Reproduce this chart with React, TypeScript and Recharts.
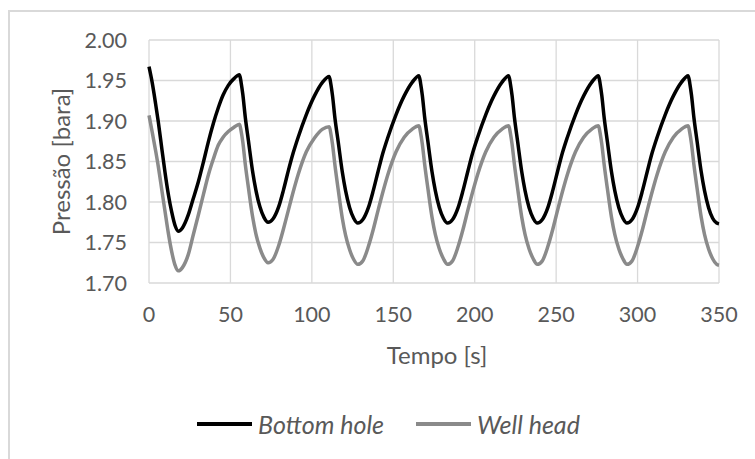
import { LineChart, Line, XAxis, YAxis, CartesianGrid, Legend } from "recharts";

// tempo [s]
const tempo = [
  0, 2, 4, 5.7, 8, 9.8, 12, 13.9, 16, 18, 20.5, 24.1, 27, 30.3, 33.5, 36.4, 39.5, 42.5, 45.5, 48.7, 52,
  55.6, 56.6, 57.6, 59.1, 61.1, 63.6, 65.6, 68.1, 70.6, 73.1, 76.1, 79.6, 82.6, 85.6, 88.6, 91.6, 96.6, 101.6, 106.6,
  110.7, 111.7, 112.7, 114.2, 116.2, 118.7, 120.7, 123.2, 125.7, 128.2, 131.2, 134.7, 137.7, 140.7, 143.7, 146.7, 151.7, 156.7, 161.7,
  165.8, 166.8, 167.8, 169.3, 171.3, 173.8, 175.8, 178.3, 180.8, 183.3, 186.3, 189.8, 192.8, 195.8, 198.8, 201.8, 206.8, 211.8, 216.8,
  220.9, 221.9, 222.9, 224.4, 226.4, 228.9, 230.9, 233.4, 235.9, 238.4, 241.4, 244.9, 247.9, 250.9, 253.9, 256.9, 261.9, 266.9, 271.9,
  276.0, 277.0, 278.0, 279.5, 281.5, 284.0, 286.0, 288.5, 291.0, 293.5, 296.5, 300.0, 303.0, 306.0, 309.0, 312.0, 317.0, 322.0, 327.0,
  331.1, 332.1, 333.1, 334.6, 336.6, 339.1, 341.1, 343.6, 346.1, 348.6, 350,
];

// Bottom hole [bara]
const bottomHole = [
  1.967, 1.947, 1.922, 1.899, 1.864, 1.837, 1.808, 1.788, 1.771, 1.764, 1.768, 1.784, 1.803, 1.825, 1.850, 1.874, 1.897, 1.916, 1.932, 1.944, 1.952,
  1.957, 1.947, 1.933, 1.905, 1.875, 1.838, 1.815, 1.794, 1.781, 1.775, 1.779, 1.794, 1.815, 1.839, 1.861, 1.880, 1.908, 1.931, 1.948,
  1.955, 1.945, 1.931, 1.903, 1.874, 1.837, 1.814, 1.793, 1.780, 1.774, 1.778, 1.793, 1.814, 1.838, 1.861, 1.880, 1.908, 1.931, 1.948,
  1.956, 1.946, 1.932, 1.904, 1.874, 1.837, 1.814, 1.793, 1.780, 1.774, 1.778, 1.793, 1.814, 1.838, 1.861, 1.880, 1.908, 1.931, 1.948,
  1.956, 1.946, 1.932, 1.904, 1.874, 1.837, 1.814, 1.793, 1.780, 1.774, 1.778, 1.793, 1.814, 1.838, 1.861, 1.880, 1.908, 1.931, 1.948,
  1.956, 1.946, 1.932, 1.904, 1.874, 1.837, 1.814, 1.793, 1.780, 1.774, 1.778, 1.793, 1.814, 1.838, 1.861, 1.880, 1.908, 1.931, 1.948,
  1.956, 1.946, 1.932, 1.904, 1.874, 1.837, 1.814, 1.793, 1.780, 1.774, 1.773,
];

// Well head [bara]
const wellHead = [
  1.907, 1.886, 1.864, 1.844, 1.813, 1.789, 1.760, 1.739, 1.722, 1.715, 1.719, 1.735, 1.758, 1.784, 1.810, 1.833, 1.853, 1.870, 1.880, 1.887, 1.892,
  1.896, 1.887, 1.874, 1.847, 1.817, 1.782, 1.761, 1.743, 1.731, 1.725, 1.729, 1.746, 1.767, 1.790, 1.813, 1.834, 1.862, 1.879, 1.890,
  1.893, 1.884, 1.871, 1.845, 1.815, 1.780, 1.759, 1.741, 1.729, 1.723, 1.727, 1.745, 1.766, 1.790, 1.813, 1.834, 1.862, 1.880, 1.890,
  1.894, 1.885, 1.872, 1.846, 1.816, 1.781, 1.760, 1.742, 1.730, 1.723, 1.727, 1.745, 1.766, 1.790, 1.813, 1.834, 1.862, 1.880, 1.890,
  1.894, 1.885, 1.872, 1.846, 1.816, 1.781, 1.760, 1.742, 1.730, 1.723, 1.727, 1.745, 1.766, 1.790, 1.813, 1.834, 1.862, 1.880, 1.890,
  1.894, 1.885, 1.872, 1.846, 1.816, 1.781, 1.760, 1.742, 1.730, 1.723, 1.727, 1.745, 1.766, 1.790, 1.813, 1.834, 1.862, 1.880, 1.890,
  1.894, 1.885, 1.872, 1.846, 1.816, 1.781, 1.760, 1.742, 1.730, 1.723, 1.722,
];

const xTicks = [0, 50, 100, 150, 200, 250, 300, 350];
const yTicks = [1.7, 1.75, 1.8, 1.85, 1.9, 1.95, 2.0];

const data = tempo.map((t, i) => ({ t, bottom: bottomHole[i], well: wellHead[i] }));

const FONT = "Lato, 'Open Sans', sans-serif";
const TEXT = "#595959";

// legenda customizada (linha + texto em itálico)
const renderLegend = (props: any) => {
  const { payload = [] } = props;
  return (
    <div style={{ display: "flex", alignItems: "center", paddingLeft: 197 }}>
      {payload.map((entry: any, i: number) => (
        <div key={i} style={{ display: "flex", alignItems: "center", marginRight: 32 }}>
          <div style={{ width: 55, height: 4, background: entry.color }} />
          <span style={{ marginLeft: 6, fontFamily: FONT, fontSize: 25, fontStyle: "italic", color: TEXT, lineHeight: "28px" }}>
            {entry.value}
          </span>
        </div>
      ))}
    </div>
  );
};

export default function App() {
  return (
    <div style={{ position: "absolute", left: 0, top: 0, width: 755, height: 459, overflow: "hidden", background: "#fff" }}>
      {/* moldura do gráfico */}
      <div style={{ position: "absolute", left: 8, top: 10, width: 800, height: 500, border: "2px solid #d9d9d9" }} />
      <div style={{ position: "absolute", left: 0, top: 0 }}>
        <LineChart width={755} height={459} data={data} margin={{ top: 40, right: 36, bottom: 136, left: 79 }}>
          <CartesianGrid stroke="#d9d9d9" strokeWidth={1.3} />
          <XAxis
            dataKey="t"
            type="number"
            domain={[0, 350]}
            ticks={xTicks}
            axisLine={false}
            tickLine={false}
            tickMargin={18}
            height={40}
            tick={{ fill: TEXT, fontSize: 21.5, fontFamily: FONT }}
            label={{
              content: (p: any) => {
                const vb = p.viewBox || { x: 149, y: 283, width: 570 };
                return (
                  <text x={vb.x + vb.width / 2 + 3} y={vb.y + 71} textAnchor="middle" dominantBaseline="central" fill={TEXT} fontSize={24} fontFamily={FONT}>
                    Tempo [s]
                  </text>
                );
              },
            }}
          />
          <YAxis
            type="number"
            domain={[1.7, 2.0]}
            ticks={yTicks}
            axisLine={false}
            tickLine={false}
            tickMargin={16}
            width={70}
            tickFormatter={(v: number) => v.toFixed(2)}
            tick={{ fill: TEXT, fontSize: 21.5, fontFamily: FONT }}
            label={{
              content: (p: any) => {
                const vb = p.viewBox || { x: 79, y: 40, height: 243 };
                const cx = vb.x - 19;
                const cy = vb.y + vb.height / 2;
                return (
                  <text x={cx} y={cy} transform={`rotate(-90 ${cx} ${cy})`} textAnchor="middle" dominantBaseline="central" fill={TEXT} fontSize={24} fontFamily={FONT}>
                    Pressão [bara]
                  </text>
                );
              },
            }}
          />
          <Legend verticalAlign="middle" align="center" content={renderLegend} wrapperStyle={{ top: 410, left: 0, width: 755 }} />
          <Line type="monotone" dataKey="bottom" name="Bottom hole" stroke="#000000" strokeWidth={3.5} dot={false} isAnimationActive={false} />
          <Line type="monotone" dataKey="well" name="Well head" stroke="#8a8a8a" strokeWidth={3.5} dot={false} isAnimationActive={false} />
        </LineChart>
      </div>
    </div>
  );
}
